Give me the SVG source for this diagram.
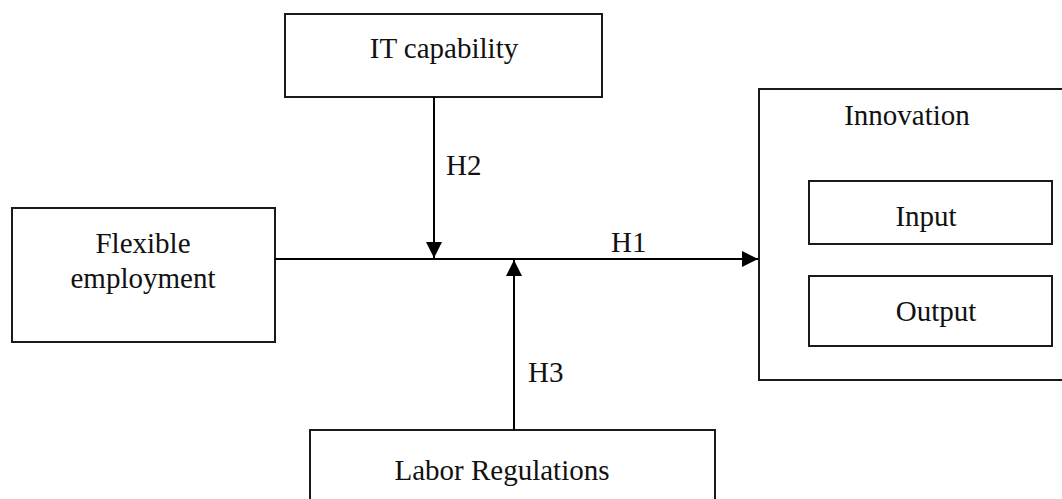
<svg xmlns="http://www.w3.org/2000/svg" width="1062" height="499" viewBox="0 0 1062 499">
<defs>
<style>
.box{fill:none;stroke:#1a1a1a;stroke-width:2}
.line{fill:none;stroke:#000;stroke-width:2}
text{font-family:"Liberation Serif","Times New Roman",serif;font-size:29px;fill:#111}
.c{text-anchor:middle}
</style>
<marker id="ah" markerWidth="16" markerHeight="16" viewBox="0 0 16 16" refX="16" refY="8" orient="auto" markerUnits="userSpaceOnUse">
<path d="M0,0 L16,8 L0,16 Z" fill="#000"/>
</marker>
</defs>
<rect width="1062" height="499" fill="#fff"/>
<g id="it-capability">
<rect class="box" x="285" y="14" width="317" height="83"/>
<text class="c" x="444" y="58">IT capability</text>
</g>
<g id="flexible-employment">
<rect class="box" x="12" y="208" width="263" height="134"/>
<text class="c" x="143" y="253">Flexible</text>
<text class="c" x="143" y="288">employment</text>
</g>
<g id="innovation">
<rect class="box" x="759" y="89" width="320" height="291"/>
<text class="c" x="907" y="125">Innovation</text>
</g>
<g id="input">
<rect class="box" x="809" y="181" width="243" height="63"/>
<text class="c" x="926" y="226">Input</text>
</g>
<g id="output">
<rect class="box" x="809" y="276" width="243" height="70"/>
<text class="c" x="936" y="321">Output</text>
</g>
<g id="labor-regulations">
<rect class="box" x="310" y="430" width="405" height="80"/>
<text class="c" x="502" y="480">Labor Regulations</text>
</g>
<g id="connectors">
<line class="line" x1="275" y1="259" x2="758" y2="259" marker-end="url(#ah)"/>
<line class="line" x1="434" y1="97" x2="434" y2="258" marker-end="url(#ah)"/>
<line class="line" x1="514" y1="430" x2="514" y2="260" marker-end="url(#ah)"/>
<text x="611" y="252">H1</text>
<text x="446" y="175">H2</text>
<text x="528" y="382">H3</text>
</g>
</svg>
